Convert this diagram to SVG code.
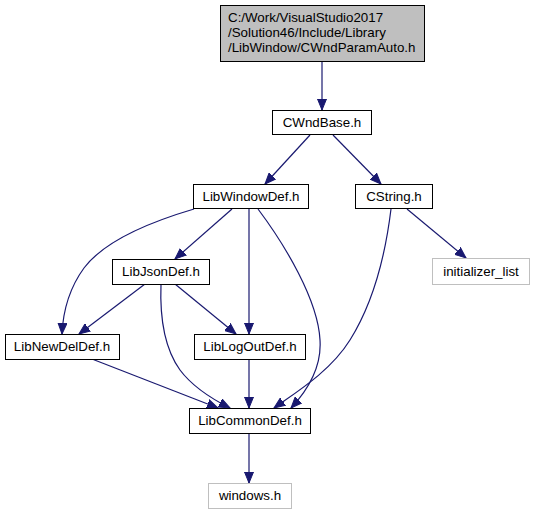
<svg xmlns="http://www.w3.org/2000/svg" width="535" height="515" viewBox="0 0 535 515">
<style>
.n rect{fill:#fff;stroke:#000;stroke-width:1}
.n.g rect{fill:#bfbfbf}
.n.x rect{stroke:#bfbfbf}
text{font-family:"Liberation Sans",Arial,sans-serif;font-size:13.33px;fill:#000}
.e path{fill:none;stroke:#191970;stroke-width:1.2;marker-end:url(#a)}
</style>
<defs>
<marker id="a" markerUnits="userSpaceOnUse" markerWidth="12" markerHeight="10" refX="11" refY="5" orient="auto" viewBox="0 0 12 10">
<path d="M0,0.5 L11,5 L0,9.5 Z" fill="#191970" stroke="#191970"/>
</marker>
</defs>
<rect width="535" height="515" fill="#fff"/>
<g id="edges" class="e">
<path d="M322,61 L322,110"/>
<path d="M310,135 L265,184"/>
<path d="M333,135 L381,184"/>
<path d="M194,209 C150,222 105,240 84,268 C68,290 63,312 62,334"/>
<path d="M232,209 L175,259"/>
<path d="M249,209 L249,334"/>
<path d="M258,209 C285,245 318,300 320,340 C322,370 305,393 291,408"/>
<path d="M145,284 L79,334"/>
<path d="M175,284 L236,334"/>
<path d="M161,284 C160,310 162,345 180,370 C192,386 210,398 230,408"/>
<path d="M92,359 L218,408"/>
<path d="M249,359 L249,408"/>
<path d="M391,209 C386,250 375,300 350,340 C330,372 295,393 274,408"/>
<path d="M407,209 L466,258"/>
<path d="M249,433 L249,483"/>
</g>
<g id="n_top" class="n g"><rect x="220.5" y="5.5" width="204" height="56"/><text x="228" y="22">C:/Work/VisualStudio2017</text><text x="228" y="37">/Solution46/Include/Library</text><text x="228" y="52">/LibWindow/CWndParamAuto.h</text></g>
<g id="n_cwndbase" class="n"><rect x="272.5" y="110.5" width="99" height="24"/><text x="322" y="127" text-anchor="middle">CWndBase.h</text></g>
<g id="n_libwindowdef" class="n"><rect x="193.5" y="184.5" width="115" height="24"/><text x="251" y="201" text-anchor="middle">LibWindowDef.h</text></g>
<g id="n_cstring" class="n"><rect x="355.5" y="184.5" width="77" height="24"/><text x="394" y="201" text-anchor="middle">CString.h</text></g>
<g id="n_libjsondef" class="n"><rect x="112.5" y="259.5" width="97" height="25"/><text x="161" y="276" text-anchor="middle">LibJsonDef.h</text></g>
<g id="n_initlist" class="n x"><rect x="432.5" y="258.5" width="97" height="26"/><text x="481" y="276" text-anchor="middle">initializer_list</text></g>
<g id="n_libnewdeldef" class="n"><rect x="5.5" y="334.5" width="114" height="25"/><text x="62" y="351" text-anchor="middle">LibNewDelDef.h</text></g>
<g id="n_liblogoutdef" class="n"><rect x="194.5" y="334.5" width="111" height="25"/><text x="250" y="351" text-anchor="middle">LibLogOutDef.h</text></g>
<g id="n_libcommondef" class="n"><rect x="189.5" y="408.5" width="121" height="25"/><text x="250" y="425" text-anchor="middle">LibCommonDef.h</text></g>
<g id="n_windows" class="n x"><rect x="208.5" y="483.5" width="83" height="25"/><text x="250" y="500" text-anchor="middle">windows.h</text></g>
</svg>
